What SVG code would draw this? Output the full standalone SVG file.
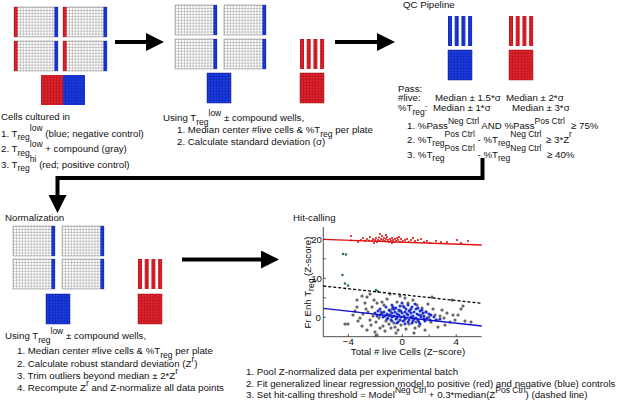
<svg xmlns="http://www.w3.org/2000/svg" xmlns:xlink="http://www.w3.org/1999/xlink" width="617" height="400" viewBox="0 0 617 400">
<style>
.t{font-family:"Liberation Sans",Arial,Helvetica,sans-serif;font-size:9.7px;fill:#111}
.s{font-size:8.5px}
.ax{stroke:#222;stroke-width:.8;fill:none}
.conn{fill:none;stroke:#000;stroke-width:4}
</style>
<defs>
<pattern id="gw" width="2.95" height="2.95" patternUnits="userSpaceOnUse"><rect width="2.95" height="2.95" fill="#fff"/><path d="M0 .3H2.95M.3 0V2.95" stroke="#8e8e8e" stroke-width=".55"/></pattern>
<pattern id="rw" width="2.95" height="2.95" patternUnits="userSpaceOnUse"><rect width="2.95" height="2.95" fill="#e3222c"/><path d="M0 .3H2.95M.3 0V2.95" stroke="#9a0f18" stroke-width=".55"/></pattern>
<pattern id="bw" width="2.95" height="2.95" patternUnits="userSpaceOnUse"><rect width="2.95" height="2.95" fill="#1b3ce6"/><path d="M0 .3H2.95M.3 0V2.95" stroke="#0a1d92" stroke-width=".55"/></pattern>
<g id="plA"><rect width="44" height="30" fill="url(#gw)" stroke="#999" stroke-width=".6"/><rect width="3.6" height="30" fill="url(#rw)"/><rect x="40.4" width="3.6" height="30" fill="url(#bw)"/></g>
<g id="plB"><rect width="42" height="30" fill="url(#gw)" stroke="#999" stroke-width=".6"/><rect x="38.4" width="3.6" height="30" fill="url(#bw)"/></g>
<g id="stR"><rect width="4" height="30" fill="url(#rw)"/><rect x="6.7" width="4" height="30" fill="url(#rw)"/><rect x="13.4" width="4" height="30" fill="url(#rw)"/><rect x="20.1" width="4" height="30" fill="url(#rw)"/></g>
<g id="stB"><rect width="4" height="30" fill="url(#bw)"/><rect x="6.7" width="4" height="30" fill="url(#bw)"/><rect x="13.4" width="4" height="30" fill="url(#bw)"/><rect x="20.1" width="4" height="30" fill="url(#bw)"/></g>
<rect id="bkR" width="24" height="30" fill="url(#rw)" stroke="#b01a22" stroke-width=".5"/>
<rect id="bkB" width="24" height="30" fill="url(#bw)" stroke="#1a2aa0" stroke-width=".5"/>
<marker id="ah" markerUnits="userSpaceOnUse" markerWidth="18" markerHeight="18" viewBox="0 0 18 18" refX="4" refY="9" orient="auto"><path d="M0 0L18 9L0 18z" fill="#000"/></marker>
</defs>
<rect width="617" height="400" fill="#fff"/>

<g id="panel-culture">
<use href="#plA" x="14" y="7"/><use href="#plA" x="63" y="7"/>
<use href="#plA" x="14" y="41"/><use href="#plA" x="63" y="41"/>
<rect x="41" y="75" width="22" height="30" fill="url(#rw)"/><rect x="63" y="75" width="22" height="30" fill="url(#bw)"/>
<text class="t" x="1" y="120">Cells cultured in</text>
<text class="t" x="1" y="136.5">1. T<tspan class="s" dy="3.5">reg</tspan><tspan class="s" dy="-9">low</tspan><tspan dy="5.5"> (blue; negative control)</tspan></text>
<text class="t" x="1" y="152">2. T<tspan class="s" dy="3.5">reg</tspan><tspan class="s" dy="-9">low</tspan><tspan dy="5.5"> + compound (gray)</tspan></text>
<text class="t" x="1" y="167.5">3. T<tspan class="s" dy="3.5">reg</tspan><tspan class="s" dy="-9">hi</tspan><tspan dy="5.5"> (red; positive control)</tspan></text>
</g>

<g id="panel-center">
<use href="#plB" x="175" y="5"/><use href="#plB" x="224" y="5"/>
<use href="#plB" x="175" y="39"/><use href="#plB" x="224" y="39"/>
<use href="#bkB" x="207" y="73"/>
<use href="#stR" x="300" y="39"/>
<use href="#bkR" x="300" y="73"/>
<text class="t" x="163" y="121">Using T<tspan class="s" dy="3.5">reg</tspan><tspan class="s" dy="-9">low</tspan><tspan dy="5.5"> ± compound wells,</tspan></text>
<text class="t" x="177" y="133">1. Median center #live cells &amp; %T<tspan class="s" dy="3.5">reg</tspan><tspan dy="-3.5"> per plate</tspan></text>
<text class="t" x="177" y="144.5">2. Calculate standard deviation (σ)</text>
</g>

<g id="panel-qc">
<text class="t" x="403" y="8">QC Pipeline</text>
<use href="#stB" x="448" y="16"/>
<use href="#bkB" x="448" y="50"/>
<use href="#stR" x="509" y="16"/>
<use href="#bkR" x="509" y="50"/>
<text class="t" x="398" y="91.5">Pass:</text>
<text class="t" x="398" y="101">#live:</text>
<text class="t" x="435" y="101">Median ± 1.5*σ</text>
<text class="t" x="506" y="101">Median ± 2*σ</text>
<text class="t" x="398" y="111">%T<tspan class="s" dy="3.5">reg</tspan><tspan dy="-3.5">:</tspan></text>
<text class="t" x="433" y="111">Median ± 1*σ</text>
<text class="t" x="512" y="111">Median ± 3*σ</text>
<text class="t" x="407" y="129">1. %Pass<tspan class="s" dy="-5.5">Neg Ctrl</tspan><tspan dy="5.5"> AND %Pass</tspan><tspan class="s" dy="-5.5">Pos Ctrl</tspan><tspan dy="5.5" x="571">≥ 75%</tspan></text>
<text class="t" x="407" y="142.5">2. %T<tspan class="s" dy="3.5">reg</tspan><tspan class="s" dy="-9">Pos Ctrl</tspan><tspan dy="5.5"> - %T</tspan><tspan class="s" dy="3.5">reg</tspan><tspan class="s" dy="-9">Neg Ctrl</tspan><tspan dy="5.5" x="546">≥ 3*Z</tspan><tspan class="s" dy="-5.5">r</tspan></text>
<text class="t" x="407" y="158">3. %T<tspan class="s" dy="3">reg</tspan><tspan class="s" dy="-10.3">Pos Ctrl</tspan><tspan dy="7.3"> - %T</tspan><tspan class="s" dy="3">reg</tspan><tspan class="s" dy="-10.3">Neg Ctrl</tspan><tspan dy="7.3" x="547">≥ 40%</tspan></text>
</g>

<g id="panel-norm">
<text class="t" x="5" y="220.5">Normalization</text>
<use href="#plB" x="13" y="226"/><use href="#plB" x="62" y="226"/>
<use href="#plB" x="13" y="259"/><use href="#plB" x="62" y="259"/>
<use href="#bkB" x="46" y="294"/>
<use href="#stR" x="138" y="259"/>
<use href="#bkR" x="138" y="294"/>
<text class="t" x="5" y="339">Using T<tspan class="s" dy="3.5">reg</tspan><tspan class="s" dy="-9">low</tspan><tspan dy="5.5"> ± compound wells,</tspan></text>
<text class="t" x="17" y="354">1. Median center #live cells &amp; %T<tspan class="s" dy="3.5">reg</tspan><tspan dy="-3.5"> per plate</tspan></text>
<text class="t" x="17" y="366.5">2. Calculate robust standard deviation (Z<tspan class="s" dy="-5">r</tspan><tspan dy="5">)</tspan></text>
<text class="t" x="17" y="379">3. Trim outliers beyond median ± 2*Z<tspan class="s" dy="-5">r</tspan></text>
<text class="t" x="17" y="391">4. Recompute Z<tspan class="s" dy="-5">r</tspan><tspan dy="5"> and Z-normalize all data points</tspan></text>
</g>

<g id="panel-hit">
<text class="t" x="293" y="221">Hit-calling</text>
<path class="ax" d="M323.3 227V336.7H481.7"/>
<path class="ax" d="M323.3 239.3h2.5M323.3 258.8h2.5M323.3 278.3h2.5M323.3 297.8h2.5M323.3 317.3h2.5M348.3 336.7v-2.5M375.3 336.7v-2.5M402.3 336.7v-2.5M429.2 336.7v-2.5M456.2 336.7v-2.5"/>
<text class="t" x="322" y="242.6" text-anchor="end">20</text>
<text class="t" x="322" y="281.6" text-anchor="end">10</text>
<text class="t" x="321" y="320.6" text-anchor="end">0</text>
<text class="t" x="348.3" y="345.3" text-anchor="middle">−4</text>
<text class="t" x="402.3" y="345.3" text-anchor="middle">0</text>
<text class="t" x="456.2" y="345.3" text-anchor="middle">4</text>
<text class="t" x="408" y="354.5" text-anchor="middle">Total # live Cells (Z−score)</text>
<text class="t" transform="translate(310.5 282.5) rotate(-90)" text-anchor="middle">Fr Enh T<tspan class="s" dy="3.5">reg</tspan><tspan dy="-3.5"> (Z-score)</tspan></text>
<g id="points" fill="none" stroke-linecap="round">
<path stroke="#333" stroke-width="3" d="M357 300h0M367 297h0M365 303h0M357 307h0M355 311h0M372 307h0M377 303h0M345 324h0M348 324h0M367 330h0M375 332h0M377 335h0M395 327h0M415 328h0M438 327h0M461 309h0M465 321h0M455 320h0M453 315h0M442 310h0M435 315h0M397 302h0M405 298h0M413 300h0M387 299h0M360 318h0M363 314h0M368 312h0M370 320h0M373 316h0M376 322h0M379 318h0M381 312h0M383 326h0M386 321h0M389 315h0M391 328h0M394 323h0M398 330h0M401 325h0M404 321h0M406 329h0M409 324h0M412 318h0M416 322h0M419 326h0M421 315h0M424 319h0M426 312h0M429 317h0M431 322h0M433 309h0M437 320h0M440 316h0M444 318h0M447 313h0M450 322h0M458 315h0M471 322h0M384 305h0M392 309h0M399 311h0M403 306h0M408 303h0M411 309h0M417 305h0M422 308h0M428 304h0M390 294h0M370 294h0M362 296h0M400 296h0M432 297h0M452 300h0M463 306h0M353 315h0M380 328h0M414 333h0M425 330h0M445 325h0M358 321h0M362 326h0M371 325h0M366 309h0M374 300h0M382 302h0M385 331h0M389 324h0M396 333h0"/>
<path stroke="#b4b4b4" stroke-width="1.6" d="M357 300h0M367 297h0M365 303h0M357 307h0M355 311h0M372 307h0M377 303h0M345 324h0M348 324h0M367 330h0M375 332h0M377 335h0M395 327h0M415 328h0M438 327h0M461 309h0M465 321h0M455 320h0M453 315h0M442 310h0M435 315h0M397 302h0M405 298h0M413 300h0M387 299h0M360 318h0M363 314h0M368 312h0M370 320h0M373 316h0M376 322h0M379 318h0M381 312h0M383 326h0M386 321h0M389 315h0M391 328h0M394 323h0M398 330h0M401 325h0M404 321h0M406 329h0M409 324h0M412 318h0M416 322h0M419 326h0M421 315h0M424 319h0M426 312h0M429 317h0M431 322h0M433 309h0M437 320h0M440 316h0M444 318h0M447 313h0M450 322h0M458 315h0M471 322h0M384 305h0M392 309h0M399 311h0M403 306h0M408 303h0M411 309h0M417 305h0M422 308h0M428 304h0M390 294h0M370 294h0M362 296h0M400 296h0M432 297h0M452 300h0M463 306h0M353 315h0M380 328h0M414 333h0M425 330h0M445 325h0M358 321h0M362 326h0M371 325h0M366 309h0M374 300h0M382 302h0M385 331h0M389 324h0M396 333h0"/>
<path stroke="#2f6a6a" stroke-width="2.6" d="M343 254h0M346 254.5h0M342.5 275h0M345 283.5h0M348 285.5h0M376 290h0M378 291.5h0"/>
<path stroke="#1a2ed8" stroke-width="3" d="M392 305h0M400 306h0M408 305h0M386 307h0M396 308h0M404 307h0M412 307h0M418 308h0M380 309h0M389 310h0M394 309h0M399 310h0M406 309h0M410 310h0M416 309h0M422 310h0M378 311h0M384 312h0M390 311h0M395 312h0M401 311h0M405 312h0M409 311h0M414 312h0M420 311h0M426 312h0M382 313h0M387 314h0M392 313h0M397 314h0M402 313h0M407 314h0M411 313h0M417 314h0M423 313h0M429 314h0M380 315h0M385 316h0M390 315h0M394 316h0M399 315h0M404 316h0M408 315h0M413 316h0M419 315h0M424 316h0M431 315h0M383 317h0M388 318h0M392 317h0M397 318h0M401 317h0M406 318h0M411 317h0M416 318h0M421 317h0M427 318h0M434 317h0M387 319h0M391 320h0M396 319h0M400 320h0M405 319h0M409 320h0M414 319h0M418 320h0M424 319h0M430 320h0M392 321h0M398 322h0M403 321h0M408 322h0M413 321h0M419 322h0M425 321h0M397 323h0M405 324h0M412 323h0M420 324h0M375 313h0M377 316h0M436 320h0M440 319h0M393 307h0M402 303h0M415 304h0"/>
<path stroke="#e01818" stroke-width="2.2" d="M351 236h0M351 240.5h0M358 242h0M361 240h0M363 238h0M365 241h0M367 239h0M369 240.5h0M370 237h0M372 241h0M373 239h0M375 240h0M376 238h0M377 242h0M378 240h0M379 237.5h0M380 241h0M381 239h0M382 236h0M383 240h0M384 238h0M385 241h0M386 239h0M387 237h0M388 240h0M389 242h0M390 239h0M391 241h0M392 238h0M393 240h0M394 242h0M395 239h0M396 241h0M397 238h0M398 240h0M400 242h0M401 239h0M403 241h0M405 240h0M407 239h0M409 242h0M411 240h0M413 238h0M415 241h0M418 240h0M421 239h0M424 242h0M427 241h0M430 243h0M436 241h0M441 242h0M447 242h0M457 240h0M461 243h0M468 241h0M380 234h0M386 235h0M374 243h0M392 243h0M399 237h0"/>
</g>
<path d="M323.3 239.3L481.7 245" stroke="#e01010" stroke-width="1.3" fill="none"/>
<path d="M323.3 286L481.7 303.3" stroke="#000" stroke-width="1.3" stroke-dasharray="3 2" fill="none"/>
<path d="M323.3 308.3L481.7 326" stroke="#1010d0" stroke-width="1.3" fill="none"/>
<text class="t" x="246" y="375">1. Pool Z-normalized data per experimental batch</text>
<text class="t" x="246" y="386.5">2. Fit generalized linear regression model to positive (red) and negative (blue) controls</text>
<text class="t" x="246" y="398">3. Set hit-calling threshold = Model<tspan class="s" dy="-5">Neg Ctrl</tspan><tspan dy="5"> + 0.3*median(Z</tspan><tspan class="s" dy="-5">Pos Ctrl</tspan><tspan dy="5">) (dashed line)</tspan></text>
</g>

<g id="connectors" class="conn">
<path d="M115 42H150" marker-end="url(#ah)"/>
<path d="M335 42H381" marker-end="url(#ah)"/>
<path d="M482.5 158V178H57.5V199" marker-end="url(#ah)"/>
<path d="M182 259.5H265" marker-end="url(#ah)"/>
</g>
</svg>
